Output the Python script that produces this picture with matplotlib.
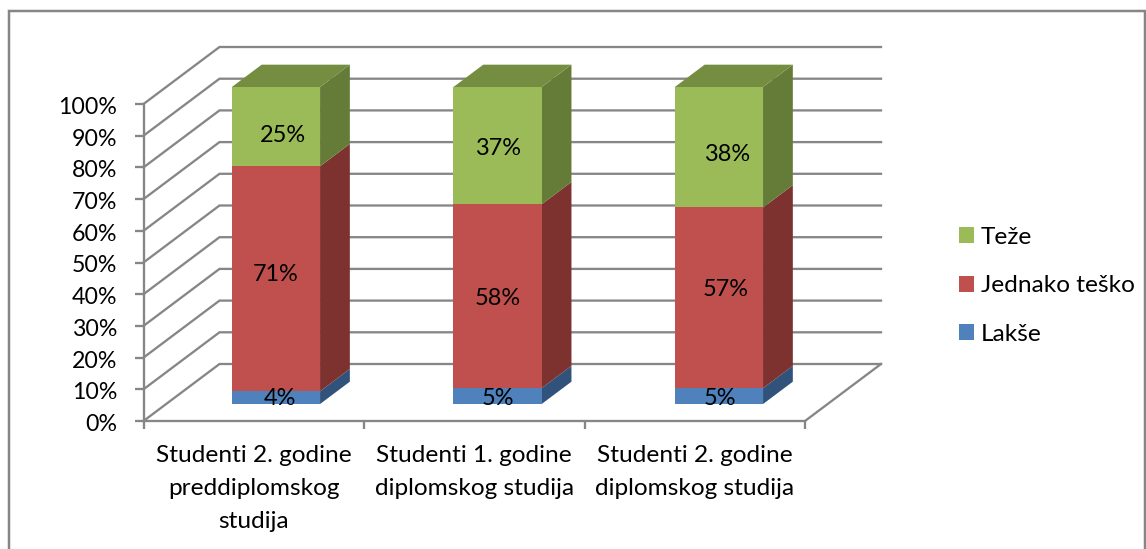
import matplotlib
matplotlib.use("Agg")
import matplotlib.pyplot as plt
from matplotlib.patches import Patch, Rectangle
from matplotlib.transforms import ScaledTranslation
import numpy as np

plt.rcParams['font.family'] = ['Lato', 'DejaVu Sans']

categories = ["Studenti 2. godine\npreddiplomskog\nstudija",
              "Studenti 1. godine\ndiplomskog studija",
              "Studenti 2. godine\ndiplomskog studija"]
series_names = ["Lakše", "Jednako teško", "Teže"]
lakse = [4, 5, 5]
jednako = [71, 58, 57]
teze = [25, 37, 38]
yticks = list(range(0, 101, 10))

front_colors = ["#4F81BD", "#C0504D", "#9BBB59"]
side_colors = ["#31527A", "#7D3230", "#657C38"]
top_color = "#758D41"
axis_color = "#868686"
text_color = "#000000"

W, H = 1146, 549
fig = plt.figure(figsize=(W / 100, H / 100), dpi=100, facecolor="white")
px = 0.72  # points per pixel
line_w = 2.3 * px

# Front plane of the 3D box
L, R, T, B = 143.5, 805.0, 104.0, 421.0
ax = fig.add_axes([L / W, 1 - B / H, (R - L) / W, (B - T) / H])
ax.set_xlim(0, 3)
ax.set_ylim(0, 100)
ax.patch.set_alpha(0)

# Depth vector of the whole box, in data units
DX = 76.0 / ((R - L) / 3)
DY = 57.0 / ((B - T) / 100)


def proj(x, y, z):
    return (x + z * DX, y + z * DY)


# Walls: gridlines
for v in yticks:
    p0, p1, p2 = proj(0, v, 0), proj(0, v, 1), proj(3, v, 1)
    ax.plot([p0[0], p1[0], p2[0]], [p0[1], p1[1], p2[1]], color=axis_color,
            lw=line_w, clip_on=False, zorder=1, solid_joinstyle="miter")
p0, p1 = proj(3, 0, 0), proj(3, 0, 1)
ax.plot([p0[0], p1[0]], [p0[1], p1[1]], color=axis_color, lw=line_w,
        clip_on=False, zorder=1)

# Bars
bar_x = [0.498, 1.503, 2.507]
bar_w = 0.40
z0, z1 = 0.298, 0.69
series = [lakse, jednako, teze]
for c in range(3):
    x0, x1 = bar_x[c] - bar_w / 2, bar_x[c] + bar_w / 2
    bottom = 0
    for s, vals in enumerate(series):
        top = bottom + vals[c]
        front = [proj(x0, bottom, z0), proj(x1, bottom, z0), proj(x1, top, z0), proj(x0, top, z0)]
        side = [proj(x1, bottom, z0), proj(x1, bottom, z1), proj(x1, top, z1), proj(x1, top, z0)]
        ax.fill(*zip(*side), color=side_colors[s], lw=0, clip_on=False, zorder=3)
        ax.fill(*zip(*front), color=front_colors[s], lw=0, clip_on=False, zorder=4)
        if s == 2:
            cap = [proj(x0, top, z0), proj(x1, top, z0), proj(x1, top, z1), proj(x0, top, z1)]
            ax.fill(*zip(*cap), color=top_color, lw=0, clip_on=False, zorder=3)
        bottom = top

# Data labels, pixel nudges from each segment's centre
nudges = [[(4, 1), (0, 2), (1, 2)],
          [(0, -4), (0, 2), (7, -8)],
          [(7, 9), (0, 3), (8, 7)]]
for c in range(3):
    bottom = 0
    for s, vals in enumerate(series):
        mid = bottom + vals[c] / 2
        pos = proj(bar_x[c], mid, z0)
        n = nudges[s][c]
        ax.annotate(f"{vals[c]}%", xy=pos, xytext=(n[0] * px, -n[1] * px),
                    textcoords="offset points", ha="center", va="center",
                    fontsize=16.9, color=text_color, zorder=6, annotation_clip=False)
        bottom += vals[c]

# Axes and ticks
for sp in ("top", "right"):
    ax.spines[sp].set_visible(False)
for sp in ("left", "bottom"):
    ax.spines[sp].set_color(axis_color)
    ax.spines[sp].set_linewidth(line_w)
    ax.spines[sp].set_zorder(2)
ax.set_yticks(yticks)
ax.set_yticklabels([f"{v}%" for v in yticks])
ax.set_xticks([0, 1, 2, 3])
ax.set_xticklabels([])
ax.set_xticks([0.5, 1.5, 2.5], minor=True)
ax.set_xticklabels(categories, minor=True, linespacing=1.72, ha="center", va="top")
ax.tick_params(axis="y", length=9 * px, width=line_w, color=axis_color,
               labelsize=16.7, labelcolor=text_color, pad=17 * px)
ax.tick_params(axis="x", which="major", length=8 * px, width=line_w, color=axis_color)
ax.tick_params(axis="x", which="minor", length=0, labelsize=17.6, labelcolor=text_color, pad=24 * px)
shift = ScaledTranslation(0, -1.5 / 100, fig.dpi_scale_trans)
for lab in ax.get_yticklabels():
    lab.set_transform(lab.get_transform() + shift)

# Legend
handles = [Patch(facecolor=front_colors[i], edgecolor="none", label=series_names[i]) for i in (2, 1, 0)]
fig.legend(handles=handles, loc="upper left", bbox_to_anchor=(959 / W, 1 - 227 / H),
           frameon=False, fontsize=17.6, handlelength=0.62, handleheight=0.62,
           handletextpad=0.27, labelspacing=1.12, borderpad=0, borderaxespad=0,
           labelcolor=text_color)

# Chart frame
fig.add_artist(Rectangle((8.5 / W, -0.01), (W - 9.5) / W, 1 - 11 / H + 0.01, transform=fig.transFigure,
                         fill=False, edgecolor=axis_color, lw=2.5 * px))

fig.savefig("out.png", dpi=100)
